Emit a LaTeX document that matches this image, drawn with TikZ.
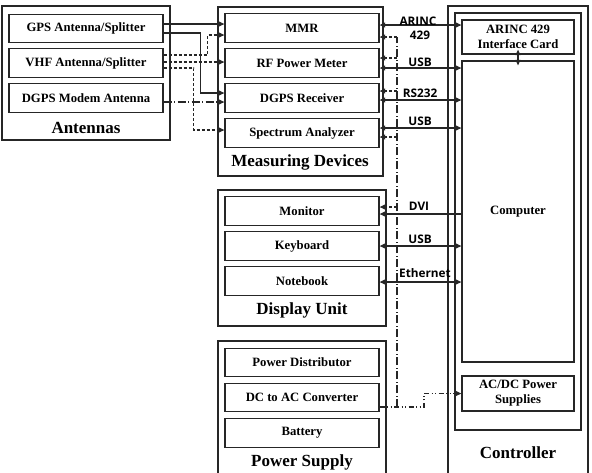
\documentclass[tikz,border=0pt]{standalone}
\usepackage{fontspec}
\setmainfont{Liberation Serif}
\newfontfamily\lblfont{Open Sans}
\usetikzlibrary{arrows.meta,calc}
\begin{document}
\begin{tikzpicture}[x=1pt,y=-1pt,
  inbox/.style={draw=black!85, line width=1.3pt, minimum width=154pt, minimum height=28.5pt, inner sep=0pt, font=\bfseries\fontsize{12.7}{14}\selectfont, align=center},
  outbox/.style={draw=black!85, line width=2pt, inner sep=0pt},
  grplbl/.style={font=\bfseries\fontsize{17}{20}\selectfont, inner sep=0pt},
  conlbl/.style={font=\lblfont\bfseries\fontsize{11.8}{13}\selectfont, inner sep=0pt},
  con/.style={line width=1.1pt, draw=black!85},
  arr/.style={con, -{Triangle[length=5.5pt,width=5pt]}},
  darr/.style={con, {Triangle[length=5.5pt,width=5pt]}-{Triangle[length=5.5pt,width=5pt]}},
  vhfline/.style={dash pattern=on 3pt off 2pt},
  pwrline/.style={dash pattern=on 8pt off 2.5pt on 1pt off 2.5pt},
  pwrtwo/.style={dash pattern=on 5pt off 2.5pt on 1pt off 2.5pt on 1pt off 2.5pt},
]
\useasboundingbox (0,0) rectangle (592,472);

% ---------- Antennas ----------
\node[outbox, minimum width=168pt, minimum height=134pt] (antennas) at (86,73) {};
\node[inbox] (gps) at (86,28.5) {GPS Antenna/Splitter};
\node[inbox] (vhf) at (86,63) {VHF Antenna/Splitter};
\node[inbox] (modem) at (86,98) {DGPS Modem Antenna};
\node[grplbl] (antlbl) at (86,128) {Antennas};

% ---------- Measuring devices ----------
\node[outbox, minimum width=165pt, minimum height=169pt] (meas) at (300.5,91.5) {};
\node[inbox] (mmr) at (302,28) {MMR};
\node[inbox] (rf) at (302,63) {RF Power Meter};
\node[inbox] (dgpsrx) at (302,98) {DGPS Receiver};
\node[inbox] (sa) at (302,133) {Spectrum Analyzer};
\node[grplbl] (measlbl) at (300,162) {Measuring Devices};

% ---------- Display unit ----------
\node[outbox, minimum width=168pt, minimum height=136pt] (disp) at (302,258) {};
\node[inbox] (monitor) at (302,211) {Monitor};
\node[inbox] (keyboard) at (302,246) {Keyboard};
\node[inbox] (notebook) at (302,281) {Notebook};
\node[grplbl] (displbl) at (302,310) {Display Unit};

% ---------- Power supply ----------
\node[outbox, minimum width=168pt, minimum height=144pt] (power) at (302,413) {};
\node[inbox] (pdist) at (302,362.5) {Power Distributor};
\node[inbox] (dcac) at (302,397.5) {DC to AC Converter};
\node[inbox] (battery) at (302,433) {Battery};
\node[grplbl] (powlbl) at (302,462) {Power Supply};

% ---------- Controller ----------
\node[outbox, minimum width=140pt, minimum height=479pt] (ctrl) at (518,245.5) {};
\node[draw=black!85, line width=1.3pt, minimum width=126pt, minimum height=417pt, inner sep=0pt] (ctrlin) at (518,221.5) {};
\node[inbox, minimum width=112pt, minimum height=34pt] (arinc) at (518,37) {ARINC 429\\[1pt]Interface Card};
\node[inbox, minimum width=112pt, minimum height=301pt] (computer) at (518,211.5) {Computer};
\node[inbox, minimum width=112pt, minimum height=35pt] (acdc) at (518,393.5) {AC/DC Power\\[1pt]Supplies};
\node[grplbl] (ctrllbl) at (518,453) {Controller};

% ---------- Antennas -> Measuring devices ----------
\draw[arr] ([yshift=4.5pt]gps.east) -- ([yshift=4.5pt]gps.east -| mmr.west);
\draw[arr] ([yshift=-4.5pt]gps.east) -- ++(37,0) |- ([yshift=5pt]dgpsrx.west);
\draw[arr, vhfline] ([yshift=8pt]vhf.east) -- ++(44,0) |- ([yshift=-7pt]mmr.west);
\draw[arr, vhfline] ([yshift=1pt]vhf.east) -- ([yshift=1pt]vhf.east -| rf.west);
\draw[arr, vhfline] ([yshift=-5pt]vhf.east) -- ++(30,0) |- ([yshift=3pt]sa.west);
\draw[arr, pwrline] ([yshift=-4pt]modem.east) -- ([yshift=-4pt]modem.east -| dgpsrx.west);

% ---------- Data links to controller ----------
\draw[darr] ([yshift=3pt]mmr.east) -- ([yshift=3pt]mmr.east -| arinc.west);
\draw[darr] ([yshift=-5pt]rf.east) -- ([yshift=-5pt]rf.east -| computer.west);
\draw[darr] ([yshift=-2pt]dgpsrx.east) -- ([yshift=-2pt]dgpsrx.east -| computer.west);
\draw[darr] ([yshift=5pt]sa.east) -- ([yshift=5pt]sa.east -| computer.west);
\draw[arr] ([yshift=-3pt]monitor.east -| computer.west) -- ([yshift=-3pt]monitor.east);
\draw[darr] (keyboard.east) -- (keyboard.east -| computer.west);
\draw[darr] ([yshift=-1pt]notebook.east) -- ([yshift=-1pt]notebook.east -| computer.west);
\draw[darr] ([yshift=5pt]arinc.south) -- ([yshift=-5pt]computer.north);

\node[conlbl] (lbarinc) at (418,21) {ARINC};
\node[conlbl] (lb429) at (420,35) {429};
\node[conlbl] (lbusba) at (420,62) {USB};
\node[conlbl] (lbrs) at (420,93) {RS232};
\node[conlbl] (lbusbb) at (420,121) {USB};
\node[conlbl] (lbdvi) at (419,206) {DVI};
\node[conlbl] (lbusbc) at (420,239) {USB};
\node[conlbl] (lbeth) at (425,273.5) {Ethernet};

% ---------- Power distribution ----------
\coordinate (ptop) at (397,37);
\coordinate (pbot) at ([yshift=-9.5pt]dcac.east -| ptop);
\draw[con, pwrline] (pbot) -- (ptop);
\draw[arr, vhfline] ([yshift=-9pt]mmr.east -| ptop) -- ([yshift=-9pt]mmr.east);
\draw[arr, vhfline] ([yshift=5pt]rf.east -| ptop) -- ([yshift=5pt]rf.east);
\draw[arr, vhfline] ([yshift=7pt]dgpsrx.east -| ptop) -- ([yshift=7pt]dgpsrx.east);
\draw[arr, vhfline] ([yshift=-4pt]sa.east -| ptop) -- ([yshift=-4pt]sa.east);
\draw[arr, vhfline] ([yshift=4pt]monitor.east -| ptop) -- ([yshift=4pt]monitor.east);
\draw[arr, pwrtwo] ([yshift=-9.5pt]dcac.east) -- (pbot) -- ++(27,0) |- (acdc.west);
\end{tikzpicture}
\end{document}
